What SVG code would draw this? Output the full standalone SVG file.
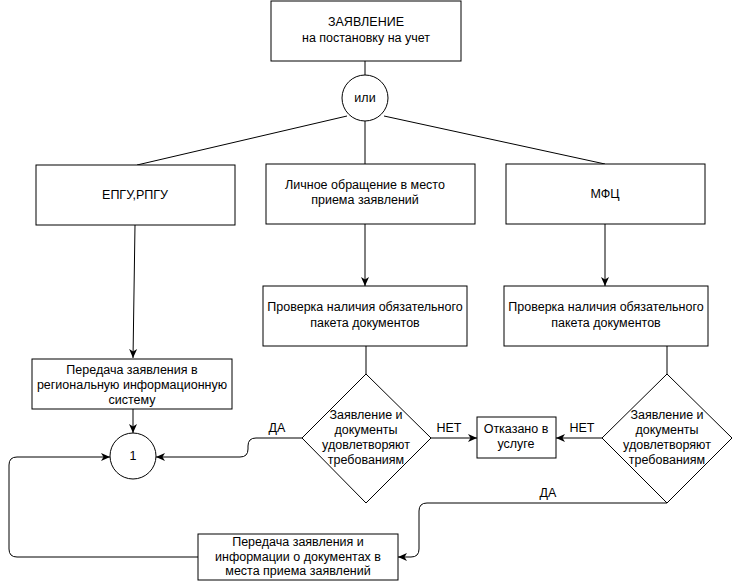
<svg xmlns="http://www.w3.org/2000/svg" width="733" height="585" viewBox="0 0 733 585">
<style>
.b{fill:#fff;stroke:#000;stroke-width:1}
.t{font-family:"Liberation Sans",Arial,sans-serif;font-size:12.5px;fill:#000;text-anchor:middle}
.c{fill:none;stroke:#000;stroke-width:1}
</style>
<defs>
<marker id="a" markerUnits="userSpaceOnUse" markerWidth="10" markerHeight="9" refX="9" refY="4.5" orient="auto">
<path d="M0,0.5 L9,4.5 L0,8.5 L2.5,4.5 Z" fill="#000"/>
</marker>
</defs>
<rect width="733" height="585" fill="#fff"/>
<g id="connectors">
<path class="c" d="M365,61 V75"/>
<path class="c" d="M347,116 L137,165"/>
<path class="c" d="M365,121 V164"/>
<path class="c" d="M384,116 L605,164"/>
<path class="c" d="M135,225 L133,358" marker-end="url(#a)"/>
<path class="c" d="M365,224 V286" marker-end="url(#a)"/>
<path class="c" d="M605,224 V286" marker-end="url(#a)"/>
<path class="c" d="M133,409 V433" marker-end="url(#a)"/>
<path class="c" d="M366,346 V374"/>
<path class="c" d="M667,346 V374"/>
<path class="c" d="M431,438 H477" marker-end="url(#a)"/>
<path class="c" d="M602,438 H556" marker-end="url(#a)"/>
<path class="c" d="M302,438 H256 Q248,438 248,446 V449 Q248,457 240,457 H156" marker-end="url(#a)"/>
<path class="c" d="M198,557 H17 Q9,557 9,549 V465 Q9,457 17,457 H110" marker-end="url(#a)"/>
<path class="c" d="M667,503 H427 Q419,503 419,511 V549 Q419,557 411,557 H398" marker-end="url(#a)"/>
<text class="t" x="277" y="432">ДА</text>
<text class="t" x="449" y="432">НЕТ</text>
<text class="t" x="582" y="432">НЕТ</text>
<text class="t" x="548" y="497">ДА</text>
</g>
<g id="n-zayavlenie">
<rect class="b" x="271" y="1" width="190" height="60"/>
<text class="t" x="366" y="26">ЗАЯВЛЕНИЕ</text>
<text class="t" x="366" y="41.5">на постановку на учет</text>
</g>
<g id="n-ili">
<circle class="b" cx="365" cy="98" r="23"/>
<text class="t" x="365" y="102">или</text>
</g>
<g id="n-epgu">
<rect class="b" x="36" y="165" width="199" height="60"/>
<text class="t" x="135" y="199">ЕПГУ,РПГУ</text>
</g>
<g id="n-lichnoe">
<rect class="b" x="266" y="164" width="209" height="60"/>
<text class="t" x="365" y="189">Личное обращение в место</text>
<text class="t" x="365" y="204">приема заявлений</text>
</g>
<g id="n-mfc">
<rect class="b" x="506" y="164" width="199" height="60"/>
<text class="t" x="605" y="198">МФЦ</text>
</g>
<g id="n-peredacha-reg">
<rect class="b" x="32" y="359" width="200" height="50"/>
<text class="t" x="132" y="374">Передача заявления в</text>
<text class="t" x="132" y="389">региональную информационную</text>
<text class="t" x="132" y="404">систему</text>
</g>
<g id="n-proverka-1">
<rect class="b" x="263" y="286" width="204" height="60"/>
<text class="t" x="365" y="311">Проверка наличия обязательного</text>
<text class="t" x="365" y="327">пакета документов</text>
</g>
<g id="n-proverka-2">
<rect class="b" x="504" y="286" width="204" height="60"/>
<text class="t" x="606" y="311">Проверка наличия обязательного</text>
<text class="t" x="606" y="327">пакета документов</text>
</g>
<g id="n-romb-1">
<polygon class="b" points="366,374 431,438 366,503 302,438"/>
<text class="t" x="366" y="418.5">Заявление и</text>
<text class="t" x="366" y="434">документы</text>
<text class="t" x="366" y="448.5">удовлетворяют</text>
<text class="t" x="366" y="463.5">требованиям</text>
</g>
<g id="n-romb-2">
<polygon class="b" points="667,374 732,438 667,503 602,438"/>
<text class="t" x="667" y="418.5">Заявление и</text>
<text class="t" x="667" y="434">документы</text>
<text class="t" x="667" y="448.5">удовлетворяют</text>
<text class="t" x="667" y="463.5">требованиям</text>
</g>
<g id="n-otkazano">
<rect class="b" x="477" y="417" width="79" height="41"/>
<text class="t" x="516" y="433">Отказано в</text>
<text class="t" x="516" y="448">услуге</text>
</g>
<g id="n-one">
<circle class="b" cx="133" cy="456" r="23"/>
<text class="t" x="133" y="460">1</text>
</g>
<g id="n-peredacha-mesta">
<rect class="b" x="198" y="534" width="200" height="46"/>
<text class="t" x="298" y="546">Передача заявления и</text>
<text class="t" x="298" y="561">информации о документах в</text>
<text class="t" x="298" y="575">места приема заявлений</text>
</g>
</svg>
